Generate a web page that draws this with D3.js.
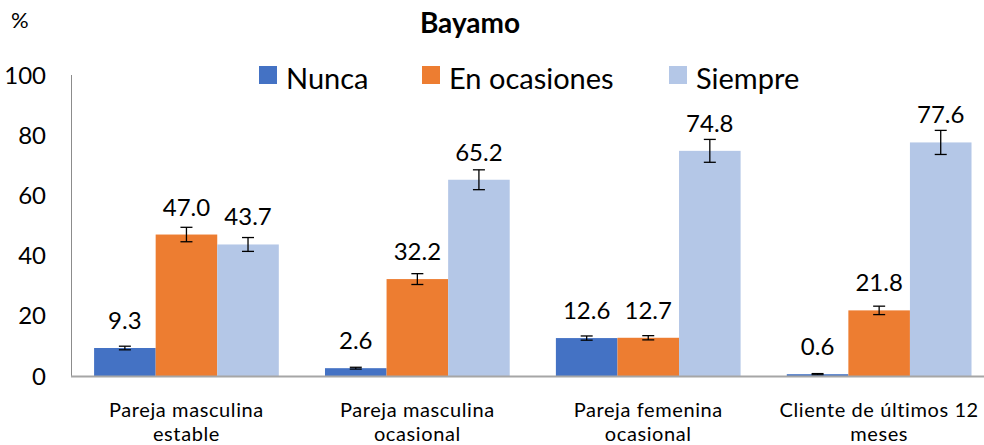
<!DOCTYPE html>
<html>
<head>
<meta charset="utf-8">
<script src="https://cdn.jsdelivr.net/npm/d3@7"></script>
<style>
  html, body { margin: 0; padding: 0; background: #fff; }
  svg { display: block; font-family: Lato, "Open Sans", sans-serif; }
</style>
</head>
<body>
<svg id="chart" width="984" height="445"></svg>
<script>
// Categories (each split into two lines) and series
const categories = [
  ["Pareja masculina", "estable"],
  ["Pareja masculina", "ocasional"],
  ["Pareja femenina", "ocasional"],
  ["Cliente de últimos 12", "meses"]
];
const seriesNames = ["Nunca", "En ocasiones", "Siempre"];
const seriesColors = ["#4472C4", "#ED7D31", "#B4C7E7"];

// Percentages per series, one value per category
const nunca       = [9.3, 2.6, 12.6, 0.6];
const enOcasiones = [47.0, 32.2, 12.7, 21.8];
const siempre     = [43.7, 65.2, 74.8, 77.6];

// Half-width of the error bars (percentage points)
const nuncaErr       = [0.6, 0.3, 0.7, 0.2];
const enOcasionesErr = [2.4, 1.8, 0.7, 1.4];
const siempreErr     = [2.3, 3.3, 3.8, 4.0];

const yTicks = [0, 20, 40, 60, 80, 100];

const values = [nunca, enOcasiones, siempre];
const errors = [nuncaErr, enOcasionesErr, siempreErr];

const svg = d3.select("#chart");

const x0 = d3.scaleBand()
  .domain(d3.range(categories.length))
  .range([71, 994.6])
  .paddingInner(0.2)
  .paddingOuter(0.1);

const x1 = d3.scaleBand()
  .domain(d3.range(seriesNames.length))
  .range([0, x0.bandwidth()]);

const y = d3.scaleLinear().domain([0, 100]).range([376, 75]);

// Title and unit
svg.append("text")
  .attr("x", 470).attr("y", 33)
  .attr("text-anchor", "middle")
  .attr("font-weight", "bold")
  .attr("font-size", 28)
  .text("Bayamo");

svg.append("text")
  .attr("x", 11).attr("y", 28)
  .attr("font-size", 22)
  .text("%");

// Y axis labels
svg.append("g").selectAll("text")
  .data(yTicks)
  .join("text")
  .attr("x", 46)
  .attr("y", d => y(d))
  .attr("dy", "0.36em")
  .attr("text-anchor", "end")
  .attr("font-size", 24)
  .attr("fill", "#000")
  .text(d => d);

// Left axis line
svg.append("line")
  .attr("x1", 71.5).attr("x2", 71.5)
  .attr("y1", y(100)).attr("y2", y(0))
  .attr("stroke", "#8c8c8c").attr("stroke-width", 1);

// Bars
const groups = svg.append("g").selectAll("g")
  .data(categories.map((c, i) => i))
  .join("g")
  .attr("transform", i => `translate(${x0(i)},0)`);

groups.selectAll("rect")
  .data(i => values.map((s, k) => ({ k, v: s[i] })))
  .join("rect")
  .attr("x", d => x1(d.k))
  .attr("width", x1.bandwidth())
  .attr("y", d => y(d.v))
  .attr("height", d => y(0) - y(d.v))
  .attr("fill", d => seriesColors[d.k]);

// Error bars
const capHalf = 6;
const eb = groups.selectAll("g.err")
  .data(i => values.map((s, k) => ({ k, v: s[i], e: errors[k][i] })))
  .join("g")
  .attr("class", "err")
  .attr("stroke", "#000")
  .attr("stroke-width", 1.3);

eb.append("line")
  .attr("x1", d => x1(d.k) + x1.bandwidth() / 2)
  .attr("x2", d => x1(d.k) + x1.bandwidth() / 2)
  .attr("y1", d => y(d.v + d.e))
  .attr("y2", d => y(d.v - d.e));
eb.append("line")
  .attr("x1", d => x1(d.k) + x1.bandwidth() / 2 - capHalf)
  .attr("x2", d => x1(d.k) + x1.bandwidth() / 2 + capHalf)
  .attr("y1", d => y(d.v + d.e))
  .attr("y2", d => y(d.v + d.e));
eb.append("line")
  .attr("x1", d => x1(d.k) + x1.bandwidth() / 2 - capHalf)
  .attr("x2", d => x1(d.k) + x1.bandwidth() / 2 + capHalf)
  .attr("y1", d => y(d.v - d.e))
  .attr("y2", d => y(d.v - d.e));

// Value labels above the bars
groups.selectAll("text.val")
  .data(i => values.map((s, k) => ({ k, v: s[i] })))
  .join("text")
  .attr("class", "val")
  .attr("x", d => x1(d.k) + x1.bandwidth() / 2)
  .attr("y", d => y(d.v) - 19)
  .attr("text-anchor", "middle")
  .attr("font-size", 24)
  .text(d => d.v.toFixed(1));

// Bottom axis line
svg.append("line")
  .attr("x1", 71).attr("x2", 994)
  .attr("y1", y(0) + 0.5).attr("y2", y(0) + 0.5)
  .attr("stroke", "#a6a6a6").attr("stroke-width", 2);

// Category labels, two lines each
const catLines = categories.flatMap((c, i) => c.map((line, j) => ({ line, i, j })));
svg.append("g").selectAll("text")
  .data(catLines)
  .join("text")
  .attr("x", d => x0(d.i) + x0.bandwidth() / 2)
  .attr("y", d => 417 + d.j * 24)
  .attr("text-anchor", "middle")
  .attr("font-size", 20)
  .attr("letter-spacing", 0.6)
  .text(d => d.line);

// Legend
const legendX = [259, 422, 669];
const legend = svg.append("g").selectAll("g")
  .data(seriesNames.map((n, k) => ({ n, k })))
  .join("g")
  .attr("transform", d => `translate(${legendX[d.k]},66)`);
legend.append("rect")
  .attr("width", 18).attr("height", 18)
  .attr("fill", d => seriesColors[d.k]);
legend.append("text")
  .attr("x", 27).attr("y", 23)
  .attr("font-size", 29)
  .text(d => d.n);
</script>
</body>
</html>
